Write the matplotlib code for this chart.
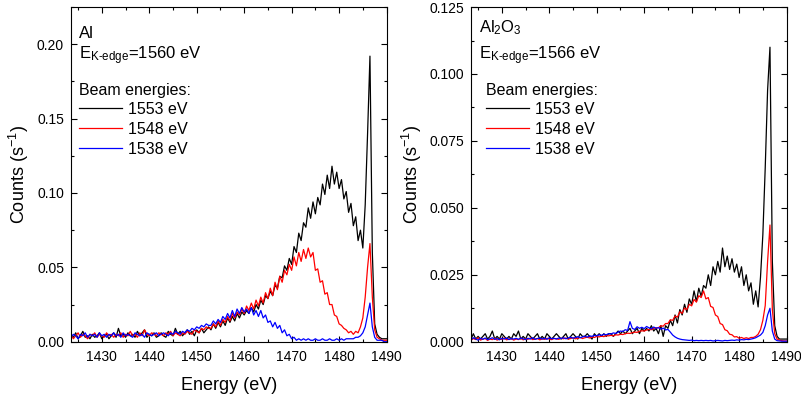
# Import Modules
import numpy as np
import matplotlib.pyplot as plt
from matplotlib.ticker import MultipleLocator, FormatStrFormatter

plt.rcParams['font.family'] = ['Liberation Sans', 'DejaVu Sans']
plt.rcParams['mathtext.fontset'] = 'custom'
plt.rcParams['mathtext.rm'] = 'Liberation Sans'
plt.rcParams['mathtext.it'] = 'Liberation Sans:italic'

# Energy grid (eV), 0.5 eV steps from 1423 to 1490
energy = np.arange(1423.0, 1490.01, 0.5)

# Beam energies (legend labels)
beam_labels = ['1553 eV', '1548 eV', '1538 eV']
line_colors = ['black', 'red', 'blue']

# ------------------------------------------------------
# Al spectra, counts (1/s)
al_1553 = [0.002, 0.004, 0.003, 0.006, 0.002, 0.004, 0.007, 0.003, 0.004, 0.002,
           0.005, 0.003, 0.004, 0.006, 0.002, 0.004, 0.005, 0.002, 0.004, 0.006,
           0.003, 0.009, 0.004, 0.005, 0.003, 0.006, 0.004, 0.005, 0.003, 0.007,
           0.004, 0.006, 0.008, 0.003, 0.005, 0.004, 0.006, 0.003, 0.004, 0.006,
           0.004, 0.003, 0.007, 0.005, 0.004, 0.009, 0.005, 0.007, 0.004, 0.006,
           0.008, 0.005, 0.007, 0.004, 0.008, 0.006, 0.009, 0.006, 0.008, 0.010,
           0.008, 0.012, 0.009, 0.013, 0.010, 0.014, 0.011, 0.016, 0.013, 0.017,
           0.014, 0.019, 0.016, 0.020, 0.018, 0.021, 0.019, 0.023, 0.020, 0.025,
           0.022, 0.028, 0.025, 0.031, 0.029, 0.034, 0.031, 0.038, 0.036, 0.044,
           0.043, 0.051, 0.048, 0.056, 0.052, 0.064, 0.060, 0.073, 0.068, 0.080,
           0.077, 0.090, 0.083, 0.094, 0.086, 0.097, 0.092, 0.106, 0.099, 0.112,
           0.103, 0.118, 0.106, 0.114, 0.103, 0.109, 0.096, 0.101, 0.087, 0.093,
           0.078, 0.084, 0.068, 0.075, 0.063, 0.092, 0.140, 0.192, 0.060, 0.012,
           0.005, 0.003, 0.002, 0.002, 0.002]
al_1548 = [0.003, 0.005, 0.002, 0.004, 0.006, 0.003, 0.005, 0.004, 0.002, 0.005,
           0.004, 0.006, 0.003, 0.005, 0.004, 0.003, 0.006, 0.004, 0.005, 0.003,
           0.005, 0.004, 0.006, 0.003, 0.005, 0.004, 0.007, 0.004, 0.005, 0.003,
           0.006, 0.004, 0.008, 0.005, 0.004, 0.006, 0.005, 0.004, 0.006, 0.005,
           0.004, 0.006, 0.005, 0.007, 0.004, 0.006, 0.005, 0.004, 0.006, 0.005,
           0.007, 0.006, 0.005, 0.008, 0.007, 0.006, 0.009, 0.008, 0.010, 0.009,
           0.009, 0.012, 0.010, 0.014, 0.011, 0.015, 0.013, 0.017, 0.014, 0.019,
           0.016, 0.020, 0.018, 0.022, 0.019, 0.024, 0.021, 0.026, 0.022, 0.028,
           0.024, 0.030, 0.026, 0.033, 0.029, 0.036, 0.031, 0.040, 0.035, 0.044,
           0.040, 0.048, 0.045, 0.052, 0.048, 0.057, 0.051, 0.060, 0.054, 0.062,
           0.056, 0.063, 0.057, 0.060, 0.048, 0.049, 0.040, 0.041, 0.032, 0.033,
           0.025, 0.025, 0.018, 0.017, 0.012, 0.011, 0.009, 0.008, 0.006, 0.007,
           0.005, 0.007, 0.006, 0.010, 0.016, 0.030, 0.050, 0.066, 0.030, 0.008,
           0.003, 0.002, 0.001, 0.001, 0.001]
al_1538 = [0.004, 0.003, 0.005, 0.004, 0.002, 0.005, 0.004, 0.006, 0.003, 0.005,
           0.004, 0.005, 0.003, 0.006, 0.004, 0.005, 0.003, 0.005, 0.004, 0.006,
           0.004, 0.005, 0.003, 0.006, 0.004, 0.005, 0.004, 0.003, 0.006, 0.005,
           0.004, 0.005, 0.003, 0.006, 0.005, 0.004, 0.005, 0.006, 0.004, 0.005,
           0.006, 0.005, 0.004, 0.006, 0.005, 0.007, 0.006, 0.005, 0.007, 0.006,
           0.008, 0.007, 0.009, 0.008, 0.010, 0.009, 0.011, 0.010, 0.012, 0.011,
           0.011, 0.014, 0.012, 0.015, 0.013, 0.017, 0.015, 0.019, 0.016, 0.021,
           0.017, 0.022, 0.019, 0.023, 0.020, 0.022, 0.019, 0.023, 0.018, 0.021,
           0.017, 0.021, 0.016, 0.018, 0.013, 0.014, 0.010, 0.013, 0.009, 0.011,
           0.006, 0.008, 0.004, 0.005, 0.002, 0.003, 0.001, 0.002, 0.001, 0.002,
           0.001, 0.002, 0.001, 0.001, 0.002, 0.001, 0.001, 0.002, 0.001, 0.001,
           0.002, 0.001, 0.001, 0.002, 0.001, 0.002, 0.001, 0.002, 0.002, 0.002,
           0.002, 0.003, 0.003, 0.004, 0.006, 0.010, 0.018, 0.026, 0.010, 0.003,
           0.001, 0.001, 0.001, 0.000, 0.000]

# ------------------------------------------------------
# Al2O3 spectra, counts (1/s)
alox_1553 = [0.002, 0.001, 0.003, 0.001, 0.002, 0.001, 0.002, 0.003, 0.001, 0.002,
             0.004, 0.001, 0.002, 0.001, 0.003, 0.002, 0.001, 0.002, 0.001, 0.003,
             0.002, 0.004, 0.001, 0.002, 0.001, 0.003, 0.002, 0.001, 0.002, 0.003,
             0.001, 0.002, 0.001, 0.003, 0.002, 0.001, 0.002, 0.003, 0.002, 0.001,
             0.002, 0.003, 0.001, 0.002, 0.003, 0.002, 0.001, 0.003, 0.002, 0.002,
             0.003, 0.002, 0.001, 0.003, 0.002, 0.003, 0.002, 0.003, 0.002, 0.003,
             0.003, 0.002, 0.003, 0.004, 0.003, 0.004, 0.003, 0.004, 0.005, 0.003,
             0.004, 0.005, 0.003, 0.005, 0.004, 0.005, 0.004, 0.006, 0.004, 0.005,
             0.003, 0.006, 0.002, 0.006, 0.005, 0.008, 0.006, 0.010, 0.007, 0.012,
             0.010, 0.014, 0.011, 0.016, 0.014, 0.019, 0.015, 0.020, 0.017, 0.021,
             0.020, 0.025, 0.021, 0.028, 0.025, 0.030, 0.026, 0.035, 0.028, 0.032,
             0.027, 0.031, 0.026, 0.029, 0.024, 0.028, 0.021, 0.025, 0.019, 0.022,
             0.014, 0.019, 0.013, 0.024, 0.040, 0.065, 0.094, 0.110, 0.030, 0.006,
             0.002, 0.001, 0.001, 0.001, 0.001]
alox_1548 = [0.0010, 0.0005, 0.0012, 0.0008, 0.0015, 0.0006, 0.0010, 0.0012, 0.0005, 0.0010,
             0.0008, 0.0013, 0.0006, 0.0010, 0.0009, 0.0014, 0.0007, 0.0010, 0.0012, 0.0006,
             0.0010, 0.0008, 0.0013, 0.0007, 0.0011, 0.0009, 0.0014, 0.0008, 0.0010, 0.0012,
             0.0007, 0.0011, 0.0009, 0.0013, 0.0010, 0.0008, 0.0012, 0.0011, 0.0009, 0.0013,
             0.0011, 0.0014, 0.0010, 0.0012, 0.0015, 0.0011, 0.0013, 0.0016, 0.0012, 0.0015,
             0.0017, 0.0014, 0.0018, 0.0016, 0.0020, 0.0018, 0.0021, 0.0019, 0.0023, 0.0022,
             0.0024, 0.0022, 0.0026, 0.0025, 0.0028, 0.0027, 0.0030, 0.0032, 0.0031, 0.0034,
             0.0036, 0.0035, 0.0039, 0.0041, 0.0040, 0.0044, 0.0046, 0.0045, 0.0050, 0.0052,
             0.0052, 0.0060, 0.0058, 0.0068, 0.0068, 0.0082, 0.0080, 0.0096, 0.0092, 0.0112,
             0.0106, 0.0126, 0.0120, 0.0140, 0.0134, 0.0158, 0.0148, 0.0172, 0.0165, 0.0190,
             0.0160, 0.0165, 0.0132, 0.0128, 0.0100, 0.0094, 0.0068, 0.0064, 0.0045, 0.0041,
             0.0028, 0.0026, 0.0018, 0.0019, 0.0013, 0.0016, 0.0012, 0.0015, 0.0012, 0.0016,
             0.0016, 0.0020, 0.0028, 0.0045, 0.0080, 0.0135, 0.0300, 0.0436, 0.0120, 0.0030,
             0.0010, 0.0006, 0.0004, 0.0003, 0.0003]
alox_1538 = [0.0012, 0.0008, 0.0015, 0.0010, 0.0006, 0.0013, 0.0009, 0.0014, 0.0008, 0.0011,
             0.0015, 0.0009, 0.0012, 0.0007, 0.0013, 0.0010, 0.0014, 0.0008, 0.0012, 0.0010,
             0.0013, 0.0009, 0.0014, 0.0011, 0.0008, 0.0013, 0.0010, 0.0015, 0.0009, 0.0012,
             0.0014, 0.0010, 0.0013, 0.0009, 0.0015, 0.0011, 0.0013, 0.0010, 0.0014, 0.0012,
             0.0015, 0.0011, 0.0014, 0.0017, 0.0013, 0.0016, 0.0019, 0.0015, 0.0018, 0.0021,
             0.0017, 0.0022, 0.0020, 0.0024, 0.0022, 0.0026, 0.0024, 0.0028, 0.0026, 0.0030,
             0.0029, 0.0033, 0.0031, 0.0036, 0.0040, 0.0038, 0.0045, 0.0042, 0.0075, 0.0050,
             0.0046, 0.0056, 0.0050, 0.0054, 0.0049, 0.0057, 0.0052, 0.0048, 0.0055, 0.0050,
             0.0053, 0.0047, 0.0051, 0.0044, 0.0046, 0.0036, 0.0025, 0.0018, 0.0013, 0.0010,
             0.0008, 0.0007, 0.0006, 0.0005, 0.0006, 0.0004, 0.0005, 0.0004, 0.0005, 0.0004,
             0.0005, 0.0004, 0.0005, 0.0003, 0.0004, 0.0005, 0.0004, 0.0003, 0.0005, 0.0004,
             0.0005, 0.0006, 0.0005, 0.0007, 0.0006, 0.0008, 0.0007, 0.0009, 0.0008, 0.0010,
             0.0012, 0.0015, 0.0020, 0.0025, 0.0035, 0.0060, 0.0100, 0.0125, 0.0040, 0.0010,
             0.0004, 0.0003, 0.0002, 0.0002, 0.0002]

# ------------------------------------------------------
fig = plt.figure(figsize=(8.01, 4.03), dpi=100)
ax1 = fig.add_axes([0.0886, 0.152, 0.394, 0.8305])
ax2 = fig.add_axes([0.588, 0.152, 0.394, 0.8305])

panels = [
    (ax1, [al_1553, al_1548, al_1538], 'Al', 0.907, '1560', 0.225, 0.05, 0.025, '%.2f', 0.025),
    (ax2, [alox_1553, alox_1548, alox_1538], r'Al$_2$O$_3$', 0.926, '1566', 0.125, 0.025, 0.0125, '%.3f', 0.0475),
]

for ax, series, name, name_y, edge, ymax, ymaj, ymin, fmt, leg_x in panels:
    for y, c, lab in zip(series, line_colors, beam_labels):
        ax.plot(energy, y, color=c, lw=0.9, label=lab)
    ax.set_xlim(1423.5, 1490)
    ax.set_ylim(0, ymax)
    ax.xaxis.set_major_locator(MultipleLocator(10))
    ax.xaxis.set_minor_locator(MultipleLocator(5))
    ax.yaxis.set_major_locator(MultipleLocator(ymaj))
    ax.yaxis.set_minor_locator(MultipleLocator(ymin))
    ax.yaxis.set_major_formatter(FormatStrFormatter(fmt))
    ax.tick_params(which='both', direction='in', top=True, right=True, labelsize=10)
    ax.tick_params(which='major', length=4, width=0.8)
    ax.tick_params(which='minor', length=2.5, width=0.8)
    ax.tick_params(axis='x', pad=6)
    ax.tick_params(axis='y', pad=5)
    ax.set_xlabel('Energy (eV)', fontsize=13, labelpad=9)
    ax.set_ylabel('Counts (s$^{-1}$)', fontsize=13, labelpad=4)
    ax.text(0.025, name_y, name, transform=ax.transAxes, fontsize=12, va='baseline')
    ax.text(0.025, 0.844, r'E$_{\text{K-edge}}$=' + edge + ' eV', transform=ax.transAxes,
            fontsize=12, va='baseline')
    ax.text(leg_x, 0.737, 'Beam energies:', transform=ax.transAxes,
            fontsize=11.5, va='baseline')
    ax.legend(loc='upper left', bbox_to_anchor=(leg_x, 0.717), frameon=False,
              fontsize=11.5, handlelength=2.7, handletextpad=0.35,
              labelspacing=0.31, borderpad=0, borderaxespad=0)

plt.savefig('out.png', dpi=100)
